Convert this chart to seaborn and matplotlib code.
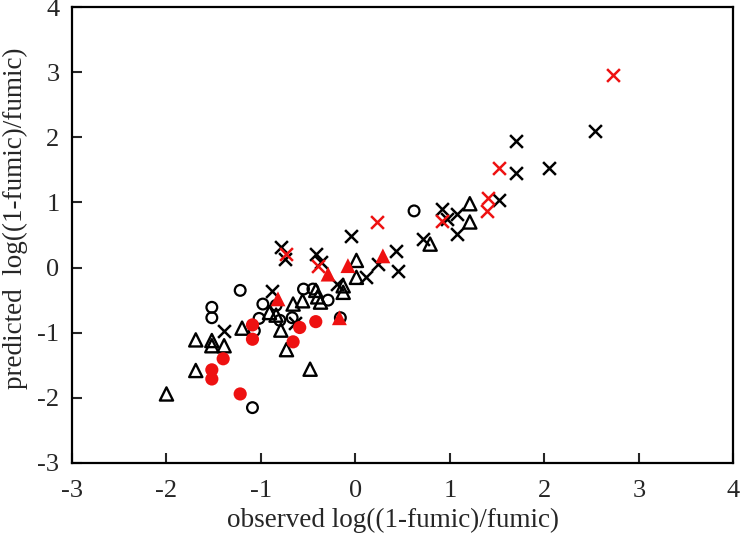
import matplotlib
matplotlib.use("Agg")
import matplotlib.pyplot as plt
import seaborn as sns

# open black circles
circ_obs = [-1.52, -1.52, -1.22, -1.09, -1.07, -1.02, -0.98, -0.84, -0.80, -0.67, -0.55, -0.45, -0.29, -0.16, 0.62]
circ_pred = [-0.61, -0.77, -0.35, -2.15, -0.97, -0.78, -0.56, -0.58, -0.81, -0.77, -0.33, -0.33, -0.50, -0.77, 0.87]

# open black triangles
tri_obs = [-2.00, -1.69, -1.69, -1.52, -1.52, -1.39, -1.20, -0.91, -0.84, -0.79, -0.73, -0.66, -0.56, -0.48,
           -0.42, -0.37, -0.40, -0.13, -0.13, 0.01, 0.01, 0.79, 1.21, 1.21]
tri_pred = [-1.94, -1.11, -1.58, -1.12, -1.20, -1.20, -0.93, -0.69, -0.73, -0.96, -1.26, -0.56, -0.51, -1.56,
            -0.35, -0.53, -0.45, -0.28, -0.38, 0.11, -0.15, 0.36, 0.98, 0.70]

# black crosses
x_obs = [-1.39, -0.88, -0.64, -0.79, -0.75, -0.42, -0.36, -0.20, -0.05, 0.11, 0.24, 0.43, 0.45, 0.71,
         0.92, 0.97, 1.07, 1.07, 1.52, 1.70, 1.70, 2.05, 2.53]
x_pred = [-0.97, -0.36, -0.85, 0.31, 0.13, 0.21, 0.08, -0.25, 0.48, -0.14, 0.06, 0.25, -0.05, 0.44,
          0.90, 0.74, 0.82, 0.51, 1.04, 1.45, 1.95, 1.53, 2.09]

# red filled circles
rc_obs = [-1.52, -1.52, -1.40, -1.22, -1.09, -1.09, -0.66, -0.59, -0.42]
rc_pred = [-1.57, -1.71, -1.40, -1.94, -0.88, -1.10, -1.14, -0.92, -0.83]

# red filled triangles
rt_obs = [-0.82, -0.29, -0.17, -0.08, 0.29]
rt_pred = [-0.48, -0.10, -0.77, 0.03, 0.18]

# red crosses
rx_obs = [-0.73, -0.40, 0.23, 0.92, 1.39, 1.40, 1.52, 2.72]
rx_pred = [0.21, 0.02, 0.70, 0.71, 0.87, 1.07, 1.53, 2.95]

RED = "#ee1111"

sns.set_style("ticks")
plt.rcParams["font.family"] = ["Liberation Serif", "DejaVu Serif"]
plt.rcParams["axes.unicode_minus"] = False

fig = plt.figure(figsize=(7.42, 5.4), dpi=100)
ax = fig.add_axes([0.097, 0.1426, 0.8915, 0.8444])

sns.scatterplot(x=circ_obs, y=circ_pred, marker="o", s=60, facecolor="none",
                edgecolor="black", linewidth=1.6, ax=ax)
sns.scatterplot(x=tri_obs, y=tri_pred, marker="^", s=90, facecolor="none",
                edgecolor="black", linewidth=1.7, ax=ax)
sns.scatterplot(x=x_obs, y=x_pred, marker="x", s=85, color="black", linewidth=1.8, ax=ax)
sns.scatterplot(x=rc_obs, y=rc_pred, marker="o", s=90, color=RED, edgecolor="none", ax=ax)
sns.scatterplot(x=rt_obs, y=rt_pred, marker="^", s=115, color=RED, edgecolor="none", ax=ax)
sns.scatterplot(x=rx_obs, y=rx_pred, marker="x", s=85, color=RED, linewidth=1.8, ax=ax)

ax.set_xlim(-3, 4)
ax.set_ylim(-3, 4)
ax.set_xticks(range(-3, 5))
ax.set_yticks(range(-3, 5))
ax.tick_params(direction="in", length=7, width=1.5, labelsize=19)
ax.tick_params(axis="x", pad=12)
ax.tick_params(axis="y", pad=9)
for sp in ax.spines.values():
    sp.set_visible(True)
    sp.set_linewidth(1.6)
    sp.set_color("black")

ax.set_xlabel("observed log((1-fumic)/fumic)", fontsize=19.5)
ax.set_ylabel("predicted  log((1-fumic)/fumic)", fontsize=19.5)
ax.xaxis.set_label_coords(0.485, -0.127)
ax.xaxis.label.set_va("center")
ax.yaxis.set_label_coords(-0.086, 0.537)
ax.yaxis.label.set_va("center")

plt.savefig("out.png", dpi=100)
